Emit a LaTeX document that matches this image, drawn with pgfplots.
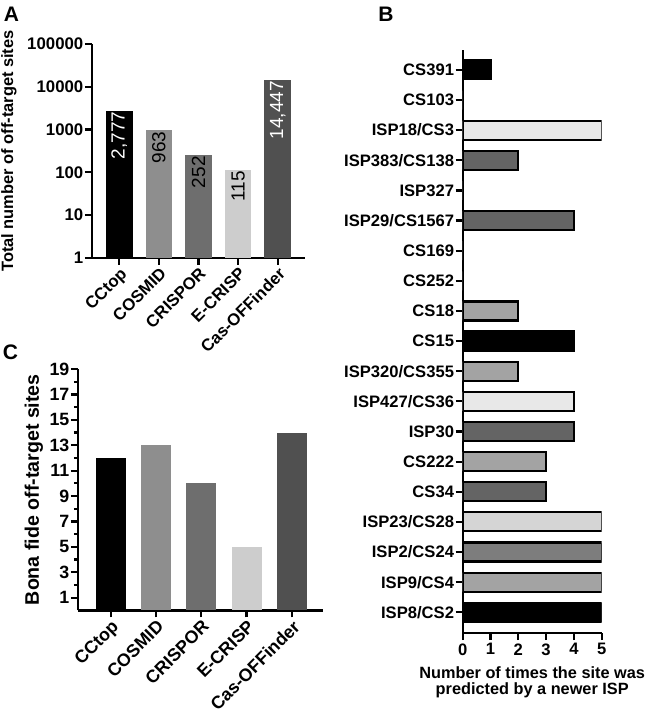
\documentclass[border=0pt]{standalone}
\usepackage{fontspec}
\setmainfont{Liberation Sans}
\usepackage{pgfplots}
\pgfplotsset{compat=1.18}

% greys
\definecolor{gCOS}{HTML}{8E8E8E}
\definecolor{gCRI}{HTML}{6E6E6E}
\definecolor{gECR}{HTML}{CDCDCD}
\definecolor{gCAS}{HTML}{505050}
\definecolor{bLight}{HTML}{E8E8E8}
\definecolor{bLight2}{HTML}{D5D5D5}
\definecolor{bDark}{HTML}{646464}
\definecolor{bMid}{HTML}{A3A3A3}
\definecolor{bMid2}{HTML}{7D7D7D}

\newcommand{\fs}[1]{\fontsize{#1bp}{#1bp}\selectfont}

\pgfplotsset{
  prism/.style={
    scale only axis,
    anchor=south west,
    axis x line=bottom, axis y line=left,
    axis line style={line width=2.2bp, -},
    every tick/.style={black, line width=2.2bp},
    tick align=outside,
    major tick length=7bp, minor tick length=4bp,
    /pgf/number format/assume math mode=true,
  },
  onebar/.style={fill=#1, draw=none, bar shift=0pt},
  hbar/.style={fill=#1, draw=black, line width=2.2bp, bar shift=0pt},
}

\begin{document}
\begin{tikzpicture}
\useasboundingbox (0,0) rectangle (650bp,720bp);

% ---------- A ----------
\begin{axis}[prism,
  at={(92bp,462bp)}, width=213bp, height=214bp,
  ybar, bar width=26.5bp,
  ymode=log, ymin=1, ymax=100000, yminorticks=false,
  ytick={1,10,100,1000,10000,100000},
  yticklabels={1,10,100,1000,10000,100000},
  xmin=-0.69, xmax=4.69,
  xtick={0,...,4},
  xticklabels={CCtop,COSMID,CRISPOR,E-CRISP,Cas-OFFinder},
  tick label style={font=\bfseries\fs{16.8}},
  yticklabel style={inner sep=1.5bp},
  xticklabel style={rotate=45, anchor=north east, inner sep=1bp},
  ylabel={Total number of off-target sites},
  ylabel style={font=\bfseries\fs{16.4}, at={(axis description cs:-0.39,0.5)}, anchor=center},
  nodes near coords, point meta=explicit symbolic,
  every node near coord/.append style={rotate=90, anchor=east, inner sep=1bp, font=\fs{19}},
]
\addplot[onebar=black, every node near coord/.append style={white}] coordinates {(0,2777) [2,777]};
\addplot[onebar=gCOS] coordinates {(1,963) [963]};
\addplot[onebar=gCRI] coordinates {(2,252) [252]};
\addplot[onebar=gECR] coordinates {(3,115) [115]};
\addplot[onebar=gCAS, every node near coord/.append style={white}] coordinates {(4,14447) [14,447]};
\end{axis}

% ---------- C ----------
\begin{axis}[prism,
  at={(78bp,109.6bp)}, width=244.7bp, height=241.4bp,
  ybar, bar width=30bp,
  ymin=0, ymax=19,
  ytick={1,3,...,19}, minor ytick={2,4,...,18},
  xmin=-0.72, xmax=4.68,
  xtick={0,...,4},
  xticklabels={CCtop,COSMID,CRISPOR,E-CRISP,Cas-OFFinder},
  tick label style={font=\bfseries\fs{17.8}},
  yticklabel style={inner sep=1.5bp},
  xticklabel style={rotate=45, anchor=north east, inner sep=1bp},
  ylabel={Bona fide off-target sites},
  ylabel style={font=\bfseries\fs{19.6}, at={(axis description cs:-0.18,0.5)}, anchor=center},
]
\addplot[onebar=black] coordinates {(0,12)};
\addplot[onebar=gCOS] coordinates {(1,13)};
\addplot[onebar=gCRI] coordinates {(2,10)};
\addplot[onebar=gECR] coordinates {(3,5)};
\addplot[onebar=gCAS] coordinates {(4,14)};
\end{axis}

% ---------- B ----------
\begin{axis}[prism,
  at={(462.7bp,87bp)}, width=139bp, height=583bp,
  xbar, bar width=19bp,
  xmin=0, xmax=5, xtick={0,...,5},
  ymin=-0.687, ymax=18.66, ytick={0,...,18},
  yticklabels={ISP8/CS2,ISP9/CS4,ISP2/CS24,ISP23/CS28,CS34,CS222,ISP30,
    ISP427/CS36,ISP320/CS355,CS15,CS18,CS252,CS169,ISP29/CS1567,ISP327,
    ISP383/CS138,ISP18/CS3,CS103,CS391},
  tick label style={font=\bfseries\fs{16.6}},
  yticklabel style={inner sep=1.5bp},
  xlabel={Number of times the site was\\predicted by a newer ISP},
  xlabel style={font=\bfseries\fs{16.3}, align=center, at={(axis description cs:0.5,0)},
    anchor=north, yshift=-33bp, inner sep=0pt},
]
\addplot[hbar=black] coordinates {(1,18) (4,9) (5,0)};
\addplot[onebar=white] coordinates {(0,17) (0,14) (0,12) (0,11)};
\addplot[hbar=bLight] coordinates {(5,16) (4,7)};
\addplot[hbar=bLight2] coordinates {(5,3)};
\addplot[hbar=bDark] coordinates {(2,15) (4,13) (4,6) (3,4)};
\addplot[hbar=bMid] coordinates {(2,10) (2,8) (3,5) (5,1)};
\addplot[hbar=bMid2] coordinates {(5,2)};
\end{axis}

% panel letters
\node[font=\bfseries\fs{21}] at (11.5bp,706bp) {A};
\node[font=\bfseries\fs{21}] at (386bp,706bp) {B};
\node[font=\bfseries\fs{21}] at (10.5bp,367.5bp) {C};
\end{tikzpicture}
\end{document}
